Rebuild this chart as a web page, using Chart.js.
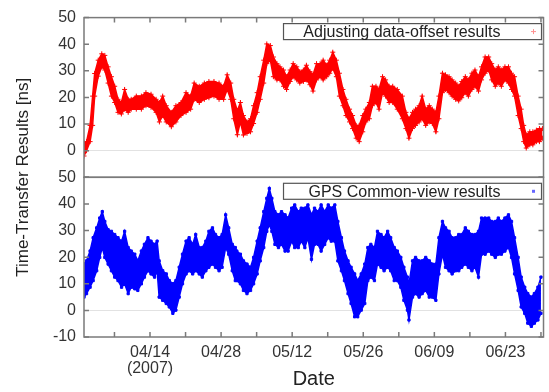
<!DOCTYPE html>
<html>
<head>
<meta charset="utf-8">
<script src="https://cdn.jsdelivr.net/npm/chart.js@4.4.1/dist/chart.umd.min.js"></script>
<style>
  html, body { margin: 0; padding: 0; background: #fff; }
  #wrap { position: relative; width: 549px; height: 392px; }
</style>
</head>
<body>
<div id="wrap"><canvas id="chart" width="549" height="392"></canvas></div>
<script>
// x values are days counted from 04/01/2007
const tickDays = [6, 13, 20, 27, 34, 41, 48, 55, 62, 69, 76, 83, 90];
const labelDays = [13, 27, 41, 55, 69, 83];
const dateLabels = [['04/14', '(2007)'], '04/28', '05/12', '05/26', '06/09', '06/23'];
const yTicks = [-10, 0, 10, 20, 30, 40, 50];

// upper panel: band of the data-offset results (lower and upper edge of the red cloud)
const redDays = [0, 0.5, 1.2, 1.7, 2.1, 2.8, 3.5, 4.1, 4.75, 5.4,
  6.05, 6.7, 7.36, 8, 8.7, 9.3, 10.3, 11.3, 12.2, 13.2,
  14.2, 14.85, 15.5, 16.2, 17.2, 18.1, 19.1, 20.1, 21, 21.7,
  22.7, 23.7, 24.6, 25.6, 26.6, 27.5, 28.2, 28.9, 29.5, 30.2,
  30.8, 31.4, 32.1, 32.8, 33.4, 34.1, 34.7, 35.4, 36, 36.7,
  37.3, 38, 38.6, 39.3, 39.9, 40.6, 41.2, 41.9, 42.5, 43.2,
  43.8, 44.5, 45.1, 45.8, 46.5, 47.1, 47.8, 48.4, 49, 49.7,
  50.3, 51, 51.6, 52.3, 52.9, 53.6, 54.2, 54.9, 55.5, 56.2,
  56.8, 57.5, 58.1, 58.8, 59.4, 60.1, 60.8, 61.7, 62.7, 63.4,
  64, 64.7, 65.3, 66, 66.6, 67.3, 68, 68.6, 69.3, 69.9,
  70.6, 71.2, 71.9, 72.5, 73.2, 73.8, 74.4, 75.1, 75.7, 76.4,
  77, 77.7, 78.3, 79, 79.7, 80.3, 81, 81.6, 82.2, 82.9,
  83.6, 84.2, 84.8, 85.5, 86.1, 86.6, 87.1, 87.8, 88.4, 89.1,
  89.7, 90.3];
const redLo = [-2, 0, 3.4, 9.5, 20.5, 28, 31.5, 30.3, 25.4, 20.5,
  18.1, 14.4, 13.8, 15.6, 14.4, 15.6, 15.6, 15.6, 16.9, 16.3,
  14.4, 10.8, 13.2, 10.8, 9, 10.8, 13.2, 14.4, 15.6, 19.3,
  18.1, 19.3, 19.9, 20.5, 19.3, 19.3, 23, 19.3, 12, 6,
  10.8, 5.9, 6.5, 7.1, 10.2, 14.4, 19.3, 25.4, 32.7, 34,
  27.8, 26.6, 26.6, 24.2, 23, 26, 27.8, 26.6, 25.4, 26,
  26.6, 24.8, 22.4, 26.6, 27.8, 26.6, 27.8, 29.1, 30.9, 27.8,
  20.5, 16.9, 13.2, 10.8, 8.3, 4.7, 3.4, 7.1, 10.8, 12,
  16.9, 18.1, 15.6, 21.8, 20.5, 18.1, 18.1, 15.6, 12, 8.3,
  4.7, 8.3, 9.5, 10.8, 12, 9.5, 10.8, 10.2, 7.1, 12,
  21.8, 23, 21.8, 20.5, 19.3, 18.7, 19.9, 21.8, 20.5, 23,
  24.2, 22.4, 26.6, 29.1, 30.3, 26.6, 24.2, 25.4, 24.2, 26.6,
  25.4, 23, 20.5, 13.2, 8.3, 3.4, 1, 2.2, 2.2, 3.4,
  3.4, 4.7];
const redHi = [3, 3.4, 9.5, 20.5, 29, 34, 36.4, 35.8, 31.5, 27.8,
  24.2, 19.3, 18.1, 23, 19.3, 19.3, 20.5, 20.5, 21.8, 21.2,
  19.3, 18.1, 20.5, 16.9, 14.4, 16.9, 18.1, 21.8, 20.5, 25.4,
  24.2, 25.4, 26, 26, 25.4, 24.2, 28.5, 25.4, 19.3, 15,
  18.1, 13.2, 10.8, 12, 16.9, 21.8, 27.8, 34, 40.1, 39.5,
  35.2, 32.7, 31.5, 30.3, 27.8, 30.3, 32.7, 31.5, 29.7, 30.3,
  32.1, 29.7, 28.5, 32.7, 32.7, 34, 32.1, 34, 37, 34,
  29.1, 23, 19.3, 15.6, 13.2, 9.5, 9.5, 13.2, 15.6, 18.1,
  24.2, 24.2, 23, 27.8, 26.6, 24.2, 24.2, 23, 20.5, 14.4,
  12, 14.4, 15.6, 16.9, 20.5, 15.6, 16.9, 15.6, 14.4, 20.5,
  29.1, 28.5, 27.8, 26.6, 25.4, 24.2, 26, 27.8, 26.6, 29.1,
  30.3, 27.8, 31.5, 35.2, 35.2, 32.7, 30.3, 31.5, 30.3, 31.5,
  31.5, 29.1, 27.8, 20.5, 15.6, 9.5, 5.9, 7.1, 7.1, 7.7,
  8.3, 8.3];

// lower panel: band of the GPS common-view results (lower and upper edge of the blue cloud)
const blueDays = [0, 0.5, 1.2, 1.8, 2.5, 3.1, 3.6, 4.1, 4.75, 5.4,
  6.05, 6.7, 7.4, 8, 8.7, 9.3, 10, 10.6, 11.3, 11.9,
  12.6, 13.2, 13.9, 14.4, 14.8, 15.5, 16.2, 16.8, 17.5, 18.1,
  18.75, 19.4, 20.1, 20.7, 21.4, 22, 22.7, 23.3, 24, 24.6,
  25.3, 25.9, 26.6, 27.2, 27.9, 28.5, 29.2, 29.8, 30.1, 30.8,
  31.4, 32.1, 32.8, 33.4, 34.1, 34.7, 35.4, 36, 36.5, 37,
  37.6, 38.3, 38.9, 39.6, 40.2, 40.9, 41.5, 42.2, 42.8, 43.5,
  44.1, 44.8, 45.4, 46.1, 46.7, 47.4, 48.1, 48.7, 49.4, 50,
  50.7, 51.3, 52, 52.6, 53.3, 53.9, 54.6, 55.3, 55.9, 56.5,
  57.2, 57.8, 58.5, 59.1, 59.8, 60.4, 61.1, 61.7, 62.4, 63,
  63.7, 64, 64.7, 65.3, 66, 66.6, 67.3, 68, 68.6, 69.3,
  69.9, 70.6, 71.2, 71.9, 72.5, 73.2, 73.8, 74.4, 75.1, 75.7,
  76.4, 77, 77.7, 78.3, 79, 79.7, 80.3, 81, 81.6, 82.2,
  82.9, 83.6, 84.2, 84.8, 85.5, 86.1, 86.8, 87.4, 88.1, 88.7,
  89.4, 90];
const blueLo = [5, 6.3, 8.7, 11.2, 14.9, 19.9, 23.6, 19.9, 17.4, 14.9,
  12.5, 11.2, 8.7, 10, 6.3, 8.7, 8.1, 7.5, 10, 12.5,
  14.9, 13.7, 12.5, 14.9, 5, 3.8, 2.6, 1.3, -1.1, 0.1,
  5, 10, 13.7, 14.9, 13.7, 14.9, 13.7, 12.5, 14.9, 16.2,
  17.4, 16.2, 14.9, 16.2, 23.6, 21.1, 14.9, 11.2, 11.2, 10,
  7.5, 6.3, 7.5, 10, 13.7, 18.6, 23.6, 29.7, 32.2, 29.7,
  24.8, 23.6, 24.8, 22.3, 22.3, 26, 23.6, 23.6, 26, 23.6,
  27.3, 19.2, 24.8, 24.8, 22.3, 24.8, 27.3, 26, 26, 18.6,
  14.9, 11.2, 6.3, 2.6, -2.4, -2.4, 0.1, 2.6, 11.2, 12.5,
  11.2, 17.4, 16.2, 14.9, 16.2, 14.9, 11.2, 11.2, 8.7, 3.8,
  0.1, -3.6, 5, 6.3, 5, 6.3, 7.5, 5, 5, 3.8,
  13.7, 21.1, 16.2, 14.9, 13.7, 14.9, 14.9, 16.2, 17.4, 16.2,
  14.9, 16.2, 12.5, 21.1, 21.1, 22.3, 21.1, 19.9, 21.1, 21.1,
  22.3, 23.6, 19.9, 13.7, 7.5, 1.3, -1.1, -4.8, -6, -4.8,
  -3.6, -1.1];
const blueHi = [17.4, 18.6, 22.3, 27.3, 31, 34.7, 37.1, 33.4, 30.3, 29.7,
  28.5, 27.3, 26, 29.7, 23.6, 22.3, 21.1, 18.6, 22.3, 24.8,
  27.3, 26, 24.8, 26, 18.6, 14.9, 13.7, 11.2, 10, 11.2,
  16.2, 21.1, 26, 27.3, 24.8, 28.5, 23.6, 23.6, 26, 29.7,
  31, 28.5, 27.3, 28.5, 35.9, 31, 24.8, 23.6, 22.3, 21.1,
  18.6, 17.4, 16.2, 19.9, 26, 31, 37.1, 42.1, 45.8, 42.1,
  37.1, 35.9, 37.1, 35.9, 34.7, 38.4, 39.6, 37.1, 38.4, 38.4,
  39.6, 35.9, 38.4, 37.1, 39.6, 37.1, 39.6, 38.4, 39.6, 33.4,
  27.3, 22.3, 18.6, 16.2, 13.7, 11.2, 13.7, 17.4, 23.6, 24.8,
  23.6, 29.7, 28.5, 27.3, 29.7, 27.3, 23.6, 22.3, 19.9, 16.2,
  12.5, 10, 18.6, 19.9, 18.6, 18.6, 19.9, 18.6, 17.4, 17.4,
  27.3, 33.4, 31, 29.7, 27.3, 27.3, 28.5, 28.5, 31, 29.7,
  28.5, 28.5, 29.7, 34.7, 34.7, 34.7, 33.4, 33.4, 34.7, 33.4,
  34.7, 35.9, 33.4, 27.3, 19.9, 12.5, 8.7, 6.3, 5, 6.3,
  8.7, 12.5];

const RED = '#ff0000';
const BLUE = '#0000ff';
const FONT = '"Liberation Sans", Arial, sans-serif';
const yTitle = 'Time-Transfer Results [ns]';

const toPoints = (xs, ys) => xs.map((x, i) => ({ x: x, y: ys[i] }));

function band(label, days, lo, hi, color, marker, axis) {
    const base = {
        yAxisID: axis,
        borderColor: color,
        backgroundColor: color,
        borderWidth: 1.5,
        tension: 0,
        pointStyle: marker,
        pointRadius: marker === 'cross' ? 2.5 : 1.6,
        pointBorderWidth: 1,
        pointBackgroundColor: color,
        pointBorderColor: color
    };
    return [
        Object.assign({}, base, { label: label, data: toPoints(days, lo), fill: false }),
        Object.assign({}, base, { label: '', data: toPoints(days, hi), fill: '-1' })
    ];
}

function yScale(hideBottom) {
    return {
        type: 'linear',
        position: 'left',
        stack: 'panels',
        stackWeight: 1,
        min: -10,
        max: 50,
        afterBuildTicks: s => { s.ticks = yTicks.map(v => ({ value: v })); },
        afterFit: s => { s.width = 84; },
        ticks: {
            color: '#333',
            font: { family: FONT, size: 16 },
            padding: 8,
            autoSkip: false,
            callback: v => (hideBottom && v === -10) ? '' : String(v)
        },
        grid: {
            drawTicks: false,
            lineWidth: 1,
            color: c => (c.tick && c.tick.value === 0) ? '#e2e2e2' : 'rgba(0,0,0,0)'
        },
        border: { display: false }
    };
}

// frames, inward ticks, legend boxes and the shared y title
const panelFrame = {
    id: 'panelFrame',
    afterDraw(chart) {
        const ctx = chart.ctx;
        const xs = chart.scales.x;
        const left = chart.chartArea.left, right = chart.chartArea.right;
        const panels = [
            { s: chart.scales.yTop, ds: 0 },
            { s: chart.scales.yBot, ds: 2 }
        ];
        ctx.save();
        ctx.strokeStyle = '#7a7a7a';
        ctx.lineWidth = 1.5;
        panels.forEach(p => {
            const s = p.s;
            ctx.strokeRect(left, s.top, right - left, s.bottom - s.top);
            ctx.beginPath();
            s.ticks.forEach(t => {
                const y = s.getPixelForValue(t.value);
                ctx.moveTo(left, y); ctx.lineTo(left + 5, y);
                ctx.moveTo(right, y); ctx.lineTo(right - 5, y);
            });
            ctx.stroke();
        });
        const top = chart.scales.yTop.top, bottom = chart.scales.yBot.bottom;
        ctx.beginPath();
        xs.ticks.forEach(t => {
            const x = xs.getPixelForValue(t.value);
            ctx.moveTo(x, top); ctx.lineTo(x, top + 5);
            ctx.moveTo(x, bottom); ctx.lineTo(x, bottom - 5);
        });
        ctx.stroke();

        // legend boxes
        panels.forEach(p => {
            const ds = chart.data.datasets[p.ds];
            const bx = right - 260, by = p.s.top + 6, bw = 258, bh = 16;
            ctx.fillStyle = '#fff';
            ctx.fillRect(bx, by, bw, bh);
            ctx.strokeStyle = '#555';
            ctx.lineWidth = 1.2;
            ctx.strokeRect(bx, by, bw, bh);
            ctx.fillStyle = '#222';
            ctx.font = '16px ' + FONT;
            ctx.textAlign = 'right';
            ctx.textBaseline = 'middle';
            ctx.fillText(ds.label, bx + bw - 41, by + bh / 2 + 1);
            const mx = bx + bw - 8, my = by + bh / 2;
            if (ds.pointStyle === 'cross') {
                ctx.strokeStyle = '#ff9090';
                ctx.lineWidth = 1;
                ctx.beginPath();
                ctx.moveTo(mx - 2.5, my); ctx.lineTo(mx + 2.5, my);
                ctx.moveTo(mx, my - 2.5); ctx.lineTo(mx, my + 2.5);
                ctx.stroke();
            } else {
                ctx.fillStyle = '#6666ff';
                ctx.fillRect(mx - 1.5, my - 1.5, 3, 3);
            }
        });

        // y title shared by both panels
        ctx.fillStyle = '#222';
        ctx.font = '17px ' + FONT;
        ctx.textAlign = 'center';
        ctx.textBaseline = 'middle';
        ctx.translate(23, (top + bottom) / 2);
        ctx.rotate(-Math.PI / 2);
        ctx.fillText(yTitle, 0, 0);
        ctx.restore();
    }
};

new Chart(document.getElementById('chart'), {
    type: 'line',
    data: {
        datasets: [
            ...band('Adjusting data-offset results', redDays, redLo, redHi, RED, 'cross', 'yTop'),
            ...band('GPS Common-view results', blueDays, blueLo, blueHi, BLUE, 'rect', 'yBot')
        ]
    },
    options: {
        responsive: false,
        animation: false,
        devicePixelRatio: 1,
        layout: { padding: { top: 11, right: 2, left: 0, bottom: 0 } },
        plugins: {
            legend: { display: false },
            tooltip: { enabled: false }
        },
        scales: {
            x: {
                type: 'linear',
                min: 0,
                max: 90.5,
                afterBuildTicks: s => { s.ticks = tickDays.map(v => ({ value: v })); },
                afterFit: s => { s.height = 55; },
                ticks: {
                    color: '#333',
                    font: { family: FONT, size: 16, lineHeight: 1 },
                    padding: 8,
                    maxRotation: 0,
                    autoSkip: false,
                    callback: v => {
                        const i = labelDays.indexOf(v);
                        return i >= 0 ? dateLabels[i] : '';
                    }
                },
                grid: { display: false, drawTicks: false },
                border: { display: false },
                title: {
                    display: true,
                    text: 'Date',
                    color: '#222',
                    font: { family: FONT, size: 20 },
                    padding: { top: 0, bottom: 1 }
                }
            },
            yBot: yScale(false),
            yTop: yScale(true)
        }
    },
    plugins: [panelFrame]
});
</script>
</body>
</html>
